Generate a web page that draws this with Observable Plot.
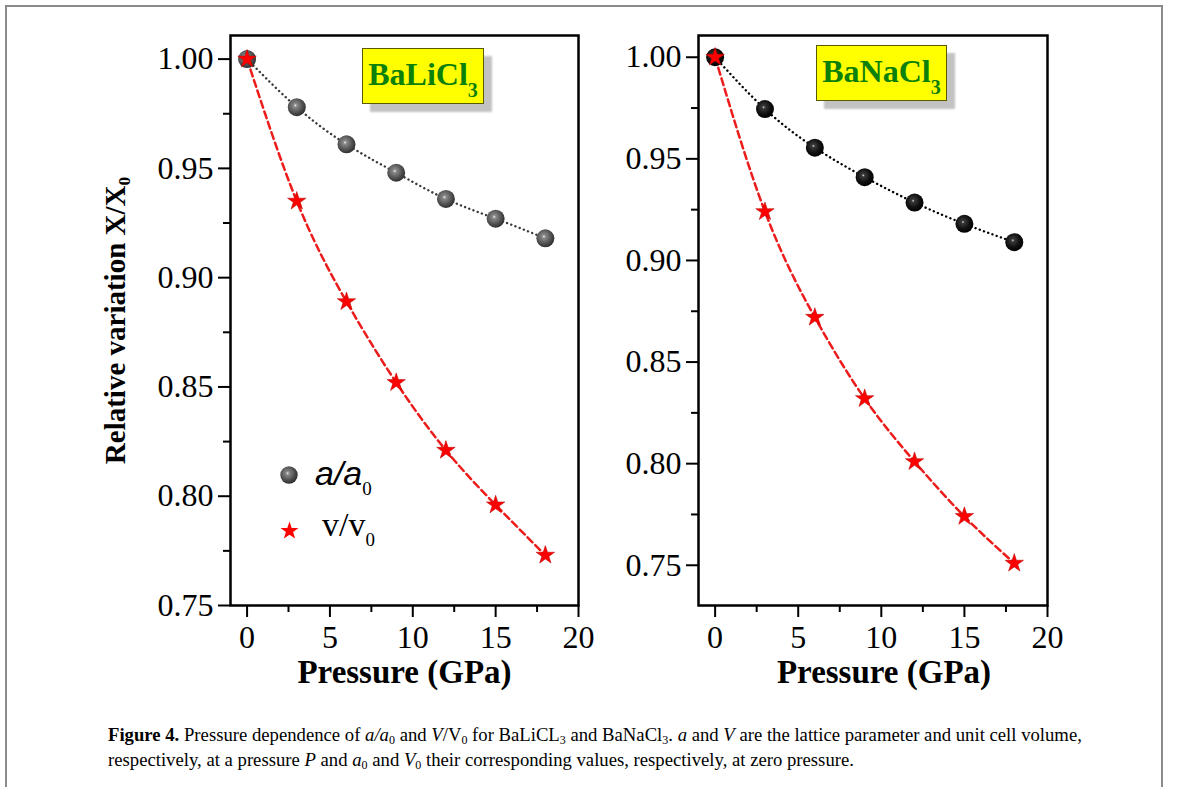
<!DOCTYPE html>
<html><head><meta charset="utf-8">
<script src="https://cdn.jsdelivr.net/npm/d3@7"></script>
<script src="https://cdn.jsdelivr.net/npm/@observablehq/plot@0.6"></script>
<style>
body{margin:0;background:#fff;}
#page{position:relative;width:1179px;height:787px;overflow:hidden;background:#fff;font-family:"Liberation Serif",serif;color:#000;}
#border{position:absolute;left:5px;top:5px;width:1154px;height:900px;border:2px solid #8a8a8a;}
.panel{position:absolute;top:0;}
.panel svg g[aria-label="x-axis label"] text{font-weight:bold;font-size:33px;}
.panel svg g[aria-label="y-axis label"] text{font-weight:bold;font-size:29px;}
.tag{position:absolute;box-sizing:border-box;background:#ffff00;border:1px solid #5a5a00;box-shadow:8px 8px 2px #c2c2c2;color:#0b800b;font:bold 32px "Liberation Serif",serif;text-align:center;line-height:50px;white-space:nowrap;}
.tag sub{font-size:20px;vertical-align:-12px;line-height:0;}
.leg{position:absolute;white-space:nowrap;line-height:34px;font-size:34px;}
.leg sub{font-size:19px;vertical-align:-10px;line-height:0;font-style:normal;font-family:"Liberation Serif",serif;}
#cap{position:absolute;left:108px;top:722px;font-size:18.7px;line-height:25px;white-space:nowrap;}
#cap sub{font-size:12px;vertical-align:-3px;line-height:0;}
</style>
</head><body>
<div id="page">
  <div id="border"></div>
  <div class="panel" id="left" style="left:0px"></div>
  <div class="panel" id="right" style="left:590px"></div>
  <div class="tag" style="left:362px;top:48px;width:122px;height:56px">BaLiCl<sub>3</sub></div>
  <div class="tag" style="left:816px;top:45px;width:131px;height:56px">BaNaCl<sub>3</sub></div>
  <svg class="leg" style="left:279px;top:465px" width="20" height="20"><defs><radialGradient id="ballLeg" cx="0.42" cy="0.4" r="0.6"><stop offset="0" stop-color="#f2f2f2"/><stop offset="0.15" stop-color="#8a8a8a"/><stop offset="0.7" stop-color="#4b4b4b"/><stop offset="1" stop-color="#2e2e2e"/></radialGradient></defs><circle cx="10" cy="10" r="8.7" fill="url(#ballLeg)"/></svg>
  <div class="leg" style="left:315px;top:456px;font-family:'Liberation Sans',sans-serif;font-style:italic;">a/a<sub>0</sub></div>
  <svg class="leg" style="left:279px;top:520px" width="21" height="21"><path transform="translate(10.5,11)" d="M0,-9.4L2.2,-3L9,-2.9L3.6,1.1L5.6,7.6L0,3.7L-5.6,7.6L-3.6,1.1L-9,-2.9L-2.2,-3Z" fill="#ff0000"/></svg>
  <div class="leg" style="left:322px;top:508px;font-family:'Liberation Serif',serif;">v/v<sub>0</sub></div>
  <div id="cap"><b>Figure 4.</b> Pressure dependence of <i>a/a</i><sub>0</sub> and <i>V</i>/V<sub>0</sub> for BaLiCL<sub>3</sub> and BaNaCl<sub>3</sub>. <i>a</i> and <i>V</i> are the lattice parameter and unit cell volume,<br>respectively, at a pressure <i>P</i> and <i>a</i><sub>0</sub> and <i>V</i><sub>0</sub> their corresponding values, respectively, at zero pressure.</div>
</div>
<script>
// ---- data ----
const pressure = [0, 3, 6, 9, 12, 15, 18];
const aLi = [1.000, 0.978, 0.961, 0.948, 0.936, 0.927, 0.918];
const vLi = [1.000, 0.935, 0.889, 0.852, 0.821, 0.796, 0.773];
const aNa = [1.000, 0.9745, 0.9555, 0.941, 0.9285, 0.918, 0.909];
const vNa = [1.000, 0.924, 0.872, 0.832, 0.801, 0.774, 0.751];
const xTicks = [0, 5, 10, 15, 20];
const xMinor = [2.5, 7.5, 12.5, 17.5];
const yTicks = [0.75, 0.80, 0.85, 0.90, 0.95, 1.00];
const yMinor = [0.775, 0.825, 0.875, 0.925, 0.975];
const xLabel = "Pressure (GPa)";
const yLabel = "Relative variation X/X0";

function panel({a, v, yDomain, width, marginLeft, marginRight, showYLabel, gradId, gradStops, dotColor, labelShift}) {
  const rows = pressure.map((p, i) => ({p, a: a[i], v: v[i]}));
  const svg = Plot.plot({
    width, height: 700,
    marginLeft, marginRight, marginTop: 35, marginBottom: 95,
    x: {domain: [-1, 20]},
    y: {domain: yDomain},
    style: {fontFamily: "'Liberation Serif', serif", fontSize: "32px", color: "#000", background: "transparent", overflow: "visible"},
    marks: [
      Plot.axisX(xMinor, {tickSize: 7, strokeWidth: 2, tickFormat: () => "", label: null}),
      Plot.axisX(xTicks, {tickSize: 12, tickPadding: 8, strokeWidth: 2, tickFormat: d => String(d), label: xLabel, labelArrow: "none", labelAnchor: "center", labelOffset: 77}),
      Plot.axisY(yMinor, {tickSize: 7, strokeWidth: 2, tickFormat: () => "", label: null}),
      Plot.axisY(yTicks, {tickSize: 12, tickPadding: 5, strokeWidth: 2, tickFormat: d3.format(".2f"), label: showYLabel ? yLabel : null, labelArrow: "none", labelAnchor: "center", labelOffset: 126}),
      Plot.line(rows, {x: "p", y: "a", stroke: dotColor, strokeWidth: 2.4, strokeDasharray: "0.1 4.4", strokeLinecap: "round", curve: "natural"}),
      Plot.line(rows, {x: "p", y: "v", stroke: "#ec1c1c", strokeWidth: 2.5, strokeDasharray: "7 4", curve: "natural"}),
      Plot.dot(rows, {x: "p", y: "a", r: 9, fill: `url(#${gradId})`}),
      Plot.dot(rows, {x: "p", y: "v", symbol: "star", r: 5.8, fill: "#ff0000", stroke: "#b00000", strokeWidth: 0.5}),
      Plot.frame({stroke: "#000", strokeWidth: 2.5})
    ]
  });
  d3.select(svg).insert("defs", ":first-child").html(
    `<radialGradient id="${gradId}" cx="0.42" cy="0.4" r="0.62">${gradStops}</radialGradient>`);
  const yl = d3.select(svg).select('g[aria-label="y-axis label"] text');
  if (!yl.empty()) yl.html('Relative variation X/X<tspan dy="0.3em" font-size="0.6em">0</tspan>');
  const xl = d3.select(svg).select('g[aria-label="x-axis label"] text');
  if (!xl.empty()) xl.text(xLabel);
  if (labelShift) {
    const g = d3.select(svg).select('g[aria-label="x-axis label"]').node();
    if (g) {
      const w = document.createElementNS("http://www.w3.org/2000/svg", "g");
      w.setAttribute("transform", `translate(${labelShift},0)`);
      g.parentNode.insertBefore(w, g); w.appendChild(g);
    }
  }
  return svg;
}

document.getElementById("left").append(panel({
  a: aLi, v: vLi, yDomain: [0.75, 1.0108], width: 590, marginLeft: 230, marginRight: 12,
  showYLabel: true, gradId: "ballLi", dotColor: "#3a3a3a",
  gradStops: '<stop offset="0" stop-color="#f2f2f2"/><stop offset="0.15" stop-color="#8a8a8a"/><stop offset="0.7" stop-color="#4b4b4b"/><stop offset="1" stop-color="#2e2e2e"/>'
}));
document.getElementById("right").append(panel({
  a: aNa, v: vNa, yDomain: [0.7302, 1.0107], width: 470, marginLeft: 108, marginRight: 13,
  showYLabel: false, gradId: "ballNa", dotColor: "#000", labelShift: 11,
  gradStops: '<stop offset="0" stop-color="#e0e0e0"/><stop offset="0.13" stop-color="#3a3a3a"/><stop offset="0.6" stop-color="#111"/><stop offset="1" stop-color="#000"/>'
}));
</script>
</body></html>
